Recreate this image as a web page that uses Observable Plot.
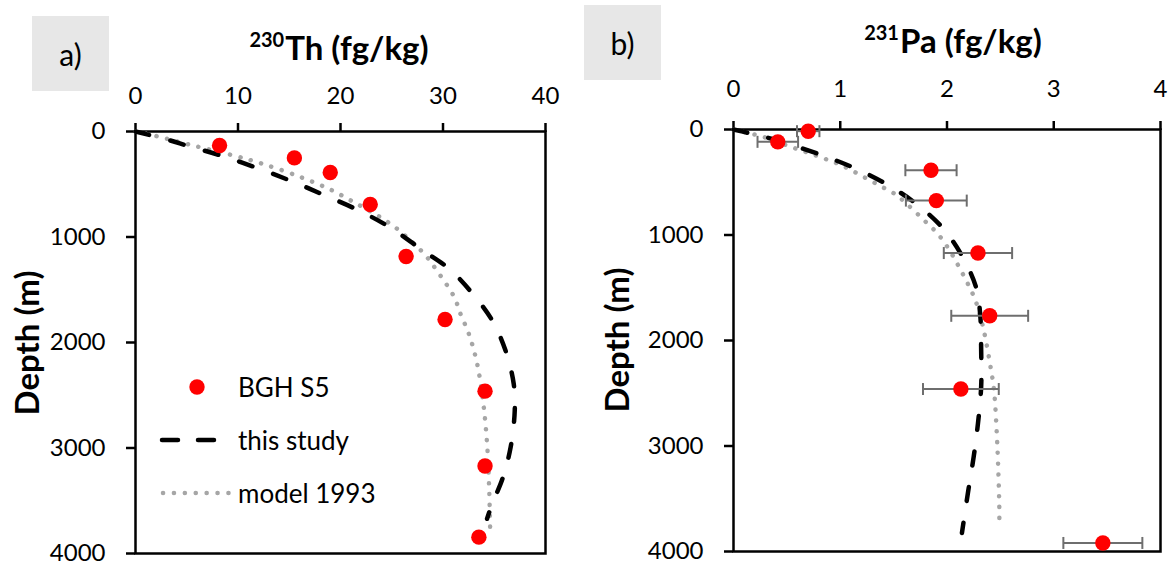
<!DOCTYPE html>
<html><head><meta charset="utf-8">
<script src="https://cdn.jsdelivr.net/npm/d3@7"></script>
<script src="https://cdn.jsdelivr.net/npm/@observablehq/plot@0.6"></script>
<style>
body{margin:0;background:#fff;}
#root{position:relative;width:1172px;height:567px;font-family:Lato,sans-serif;color:#000;overflow:hidden;background:#fff}
.panel{position:absolute;top:0}
.box{position:absolute;background:#e7e7e7;display:flex;align-items:center;justify-content:center;font-size:30px}
.title{position:absolute;font-weight:bold;font-size:33px;white-space:nowrap;transform:translateX(-50%);line-height:1}
.title sup{font-size:20px;vertical-align:0;position:relative;top:-13px;margin-right:1px}
.ylab{position:absolute;font-weight:bold;font-size:33px;white-space:nowrap;transform:translate(-50%,-50%) rotate(-90deg);line-height:1}
#legend{position:absolute;left:0;top:0;pointer-events:none}
</style></head><body><div id="root"></div>
<script>
// ---------- data ----------
const depthTicks = [0, 1000, 2000, 3000, 4000];
const thTicks = [0, 10, 20, 30, 40];
const paTicks = [0, 1, 2, 3, 4];

// Panel a: 230Th
const thObsDepth = [133, 250, 389, 692, 1185, 1782, 2461, 3170, 3845];
const thObsValue = [8.2, 15.5, 19.0, 22.9, 26.4, 30.2, 34.1, 34.1, 33.5];

const thStudyDepth = [0, 85, 133, 227, 347, 474, 607, 749, 913, 1112, 1302, 1539, 1791, 2076, 2392, 2645, 2992, 3292, 3529, 3671];
const thStudyValue = [0, 3.4, 5.0, 8.3, 11.9, 15.3, 18.5, 21.8, 24.9, 27.8, 30.6, 32.9, 34.8, 36.1, 36.9, 37.0, 36.6, 35.8, 34.8, 34.3];

const thModelDepth = [0, 38, 123, 221, 306, 439, 559, 654, 796, 913, 1049, 1175, 1318, 1570, 1728, 1912, 2187, 2550, 2960, 3371, 3766];
const thModelValue = [0, 1.8, 5.2, 9.3, 12.4, 16.3, 19.2, 21.0, 23.6, 25.4, 27.0, 28.3, 29.4, 31.1, 31.7, 32.5, 33.3, 33.9, 34.3, 34.5, 34.6];

// Panel b: 231Pa
const paObsDepth = [16, 117, 386, 674, 1171, 1766, 2460, 3919];
const paObsValue = [0.70, 0.415, 1.85, 1.90, 2.29, 2.40, 2.13, 3.46];
const paObsErr = [0.105, 0.19, 0.24, 0.285, 0.32, 0.36, 0.355, 0.37];

const paStudyDepth = [0, 38, 89, 237, 364, 522, 703, 934, 1197, 1488, 1741, 2089, 2438, 2786, 3102, 3419, 3824];
const paStudyValue = [0, 0.16, 0.36, 0.81, 1.13, 1.44, 1.71, 1.96, 2.14, 2.27, 2.31, 2.32, 2.32, 2.29, 2.25, 2.20, 2.14];

const paModelDepth = [0, 25, 70, 158, 279, 348, 450, 538, 617, 712, 855, 997, 1155, 1298, 1472, 1630, 1883, 2263, 2469, 2960, 3577, 3773];
const paModelValue = [0, 0.10, 0.28, 0.52, 0.86, 1.03, 1.22, 1.38, 1.52, 1.63, 1.78, 1.92, 2.03, 2.11, 2.20, 2.27, 2.34, 2.41, 2.44, 2.47, 2.49, 2.49];

const legendLabels = ["BGH S5", "this study", "model 1993"];

// ---------- helpers ----------
const zipRows = (depths, values, extra) => depths.map((d, i) => ({d, v: values[i], e: extra ? extra[i] : 0}));
const STUDY = {stroke: "#000", strokeWidth: 4.5, strokeDasharray: "14 22", strokeLinecap: "round", curve: "catmull-rom"};
const MODEL = {stroke: "#a6a6a6", strokeWidth: 4.5, strokeDasharray: "0.1 10.7", strokeLinecap: "round", curve: "catmull-rom"};
const RED = "#ff0000";
const capSymbol = {draw(ctx, size) { const r = Math.sqrt(size / Math.PI); ctx.moveTo(0, -r); ctx.lineTo(0, r); }};

function makePanel({width, mt, mb, ml, mr, xDomain, xTicks, xPad, obs, study, model, errors}) {
  const marks = [
    Plot.frame({stroke: "#000", strokeWidth: 2.5}),
    Plot.axisX({anchor: "top", ticks: xTicks, tickSize: 9, tickPadding: xPad, strokeWidth: 2.5, label: null, fontSize: 24, tickFormat: d3.format("d")}),
    Plot.axisY({anchor: "left", ticks: depthTicks, tickSize: 9, tickPadding: 21, strokeWidth: 2.5, label: null, fontSize: 24, tickFormat: d3.format("d")}),
    Plot.line(model, {x: "v", y: "d", ...MODEL}),
    Plot.line(study, {x: "v", y: "d", ...STUDY})
  ];
  if (errors) {
    marks.push(
      Plot.link(obs, {x1: d => d.v - d.e, x2: d => d.v + d.e, y1: "d", y2: "d", stroke: "#6e6e6e", strokeWidth: 2}),
      Plot.dot(obs, {x: d => d.v - d.e, y: "d", symbol: capSymbol, r: 6, stroke: "#6e6e6e", strokeWidth: 2}),
      Plot.dot(obs, {x: d => d.v + d.e, y: "d", symbol: capSymbol, r: 6, stroke: "#6e6e6e", strokeWidth: 2})
    );
  }
  marks.push(Plot.dot(obs, {x: "v", y: "d", r: 7.7, fill: RED}));
  return Plot.plot({
    width, height: 567,
    marginTop: mt, marginBottom: mb, marginLeft: ml, marginRight: mr,
    style: {fontFamily: "Lato, sans-serif", fontSize: "24px", color: "#000", background: "transparent", overflow: "visible"},
    x: {domain: xDomain},
    y: {domain: [0, 4000], reverse: true},
    marks
  });
}

const root = document.getElementById("root");

const pa = makePanel({
  width: 585, mt: 131, mb: 14, ml: 135, mr: 40, xDomain: [0, 40], xTicks: thTicks, xPad: 19,
  obs: zipRows(thObsDepth, thObsValue), study: zipRows(thStudyDepth, thStudyValue), model: zipRows(thModelDepth, thModelValue)
});
pa.classList.add("panel"); pa.style.left = "0px"; pa.style.position = "absolute";
root.appendChild(pa);

const pb = makePanel({
  width: 587, mt: 129, mb: 16, ml: 148, mr: 12, xDomain: [0, 4], xTicks: paTicks, xPad: 24,
  obs: zipRows(paObsDepth, paObsValue, paObsErr), study: zipRows(paStudyDepth, paStudyValue), model: zipRows(paModelDepth, paModelValue), errors: true
});
pb.classList.add("panel"); pb.style.left = "585px"; pb.style.position = "absolute";
root.appendChild(pb);

// ---------- labels ----------
function addDiv(cls, html, css) {
  const el = document.createElement("div");
  el.className = cls; el.innerHTML = html;
  Object.assign(el.style, css);
  root.appendChild(el);
  return el;
}
addDiv("box", "a)", {left: "32px", top: "16px", width: "77px", height: "75px"});
addDiv("box", "b)", {left: "584px", top: "5px", width: "77px", height: "75px"});
addDiv("title", "<sup>230</sup>Th (fg/kg)", {left: "339px", top: "31px"});
addDiv("title", "<sup>231</sup>Pa (fg/kg)", {left: "953px", top: "24px"});
addDiv("ylab", "Depth (m)", {left: "26px", top: "343px"});
addDiv("ylab", "Depth (m)", {left: "616px", top: "340px"});

// ---------- legend (panel a) ----------
const ns = "http://www.w3.org/2000/svg";
const lg = document.createElementNS(ns, "svg");
lg.setAttribute("id", "legend"); lg.setAttribute("width", 585); lg.setAttribute("height", 567);
const rows = [387, 440, 493];
function el(tag, attrs) { const e = document.createElementNS(ns, tag); for (const k in attrs) e.setAttribute(k, attrs[k]); lg.appendChild(e); return e; }
el("circle", {cx: 197, cy: rows[0], r: 7.7, fill: RED});
el("line", {x1: 162, x2: 218, y1: rows[1], y2: rows[1], stroke: "#000", "stroke-width": 4.5, "stroke-dasharray": "16 20", "stroke-linecap": "round"});
el("line", {x1: 163, x2: 229, y1: rows[2], y2: rows[2], stroke: "#a6a6a6", "stroke-width": 4.5, "stroke-dasharray": "0.1 10.8", "stroke-linecap": "round"});
legendLabels.forEach((t, i) => {
  const tx = el("text", {x: 238, y: rows[i], "dominant-baseline": "central", "font-size": 26, "font-family": "Lato, sans-serif", fill: "#000"});
  tx.textContent = t;
});
root.appendChild(lg);
</script></body></html>
